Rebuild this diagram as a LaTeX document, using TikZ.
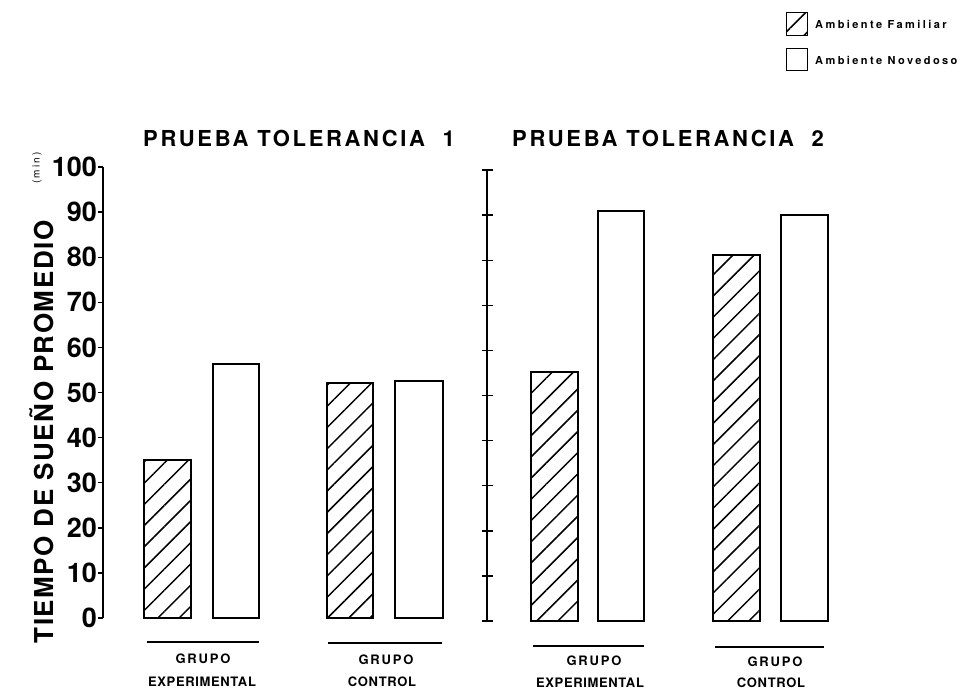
\documentclass[tikz,border=0pt]{standalone}
\usepackage{fontspec}
\setmainfont{TeX Gyre Heros}
\newfontfamily\titlefont[LetterSpace=12]{TeX Gyre Heros}
\newfontfamily\ylabfont[LetterSpace=6]{TeX Gyre Heros}
\newfontfamily\grpfont[LetterSpace=5]{TeX Gyre Heros}
\newfontfamily\grupofont[LetterSpace=14]{TeX Gyre Heros}
\newfontfamily\legfont[LetterSpace=22]{TeX Gyre Heros}
\usetikzlibrary{patterns.meta}

\begin{document}
\begin{tikzpicture}[x=1pt,y=-1pt,
    bar/.style={draw,line width=1.5pt},
    hbar/.style={bar,pattern={Lines[angle=45,distance=15pt,line width=1.5pt]}},
    axline/.style={line width=1.6pt},
    axtick/.style={line width=1.4pt},
    ticklabel/.style={anchor=east,inner sep=0pt,font=\fontsize{27}{27}\selectfont\bfseries},
    title/.style={inner sep=0pt,font=\titlefont\fontsize{22}{22}\selectfont\bfseries},
    grp/.style={inner sep=0pt,font=\grpfont\fontsize{13}{13}\selectfont\bfseries},
    grupo/.style={inner sep=0pt,font=\grupofont\fontsize{13}{13}\selectfont\bfseries},
    leg/.style={anchor=west,inner sep=0pt,font=\legfont\fontsize{11}{11}\selectfont\bfseries}]
  \useasboundingbox (0,0) rectangle (967,691);

  % legend
  \draw[hbar,line width=1pt] (786,12) rectangle (807,35);
  \node[leg] (famlabel) at (815,24) {Ambiente Familiar};
  \draw[bar,line width=1pt] (786,48) rectangle (807,70);
  \node[leg] (novlabel) at (815,60) {Ambiente Novedoso};

  % titles and axis label
  \node[title] (prueba1) at (299,138) {PRUEBA TOLERANCIA\ \ 1};
  \node[title] (prueba2) at (668,138) {PRUEBA TOLERANCIA\ \ 2};
  \node[inner sep=0pt,rotate=90,font=\ylabfont\fontsize{26}{26}\selectfont\bfseries] (tiempo) at (42,432) {TIEMPO DE SUEÑO PROMEDIO};
  \node[inner sep=0pt,rotate=90,font=\legfont\fontsize{10}{10}\selectfont] (minutos) at (37,168) {(min)};

  % prueba 1
  \begin{scope}[shift={(0,618)},y=4.51pt]
    \draw[hbar] (144,0) rectangle (191,35);
    \draw[bar] (213,0) rectangle (259,56.3);
    \draw[hbar] (327,0) rectangle (373,52.1);
    \draw[bar] (395,0) rectangle (443,52.5);
    \draw[axline] (103,0) -- (103,100);
    \foreach \v in {0,10,...,100} {
      \draw[axtick] (98,\v) -- (103,\v);
      \node[ticklabel] (val\v) at (97,\v) {\v};
    }
  \end{scope}

  % prueba 2
  \begin{scope}[shift={(0,621)},y=4.51pt]
    \draw[hbar] (531,0) rectangle (578,55.2);
    \draw[bar] (598,0) rectangle (644,90.9);
    \draw[hbar] (713,0) rectangle (760,81.2);
    \draw[bar] (781,0) rectangle (828,90);
    \draw[axline] (487,0) -- (487,100);
    \foreach \v in {0,10,...,100}
      \draw[axtick] (482,\v) -- (493,\v);
  \end{scope}

  % grupos
  \draw[axline] (147,642) -- (259,642);
  \draw[axline] (328,643) -- (442,643);
  \draw[axline] (533,646) -- (644,646);
  \draw[axline] (715,647) -- (824,647);
  \node[grupo] (grupo1) at (203,659) {GRUPO};
  \node[grp] (exp1) at (202,682) {EXPERIMENTAL};
  \node[grupo] (grupo2) at (386,660) {GRUPO};
  \node[grp] (con1) at (382,682) {CONTROL};
  \node[grupo] (grupo3) at (594,661) {GRUPO};
  \node[grp] (exp2) at (590,683) {EXPERIMENTAL};
  \node[grupo] (grupo4) at (775,662) {GRUPO};
  \node[grp] (con2) at (771,683) {CONTROL};
\end{tikzpicture}
\end{document}
